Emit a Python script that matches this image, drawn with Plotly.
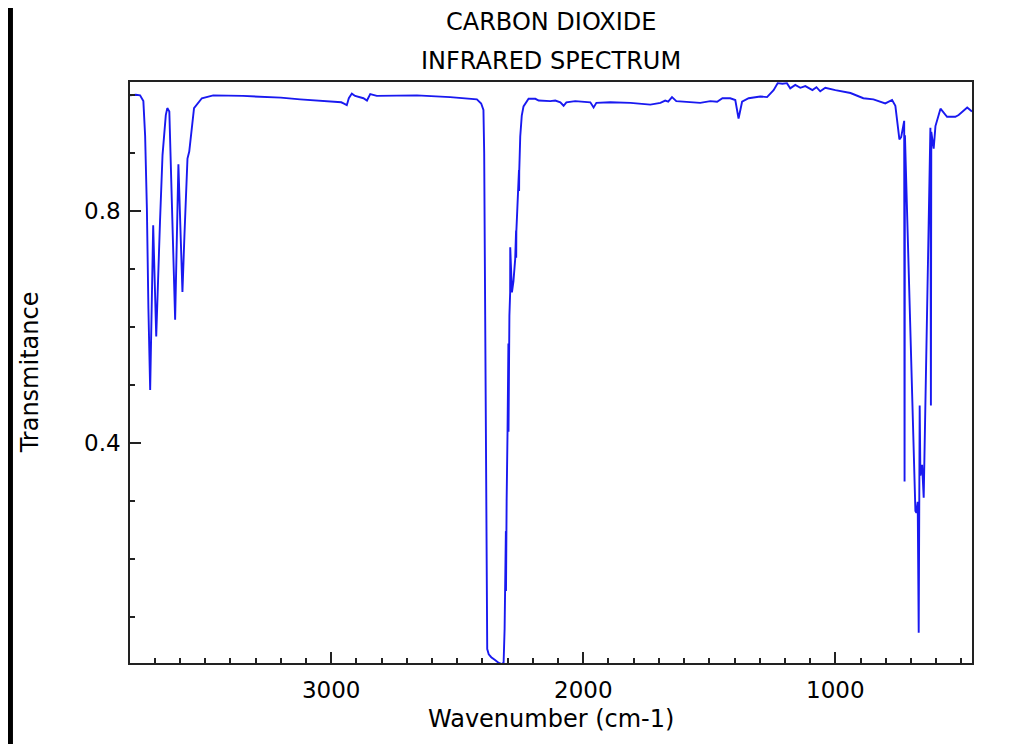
import plotly.graph_objects as go

# Wavenumber (cm-1) and transmittance
wavenumber = [
    3798, 3775, 3758, 3745, 3738, 3731, 3725, 3718, 3706, 3694, 3679, 3669,
    3656, 3650, 3642, 3631, 3619, 3606, 3590, 3582, 3570, 3563, 3544, 3513,
    3468, 3350, 3200, 3123, 3000, 2960, 2951, 2938, 2930, 2918, 2905, 2872,
    2858, 2845, 2819, 2700, 2660, 2528, 2422, 2405, 2396, 2393, 2389, 2385,
    2381, 2375, 2365, 2350, 2335, 2322, 2316, 2312, 2309.5, 2307, 2306.5,
    2306, 2304, 2300.5, 2297, 2296.5, 2296, 2293, 2290, 2289.7, 2283, 2277,
    2270, 2266.5, 2266, 2265.5, 2262, 2259, 2255, 2254.5, 2254, 2250, 2244,
    2237, 2217, 2190, 2177, 2131, 2111, 2091, 2078, 2067, 2032, 1972, 1959,
    1948, 1893, 1813, 1734, 1694, 1675, 1663, 1648, 1631, 1575, 1536, 1496,
    1469, 1448, 1417, 1397, 1384, 1370, 1344, 1298, 1271, 1245, 1229, 1210,
    1192, 1179, 1159, 1139, 1119, 1091, 1075, 1060, 1040, 1000, 940, 889,
    849, 802, 775, 762, 746, 739, 729, 727, 725.5, 724, 682.5, 678.6, 673.4,
    669.4, 665.5, 662.7, 655.9, 649.6, 623, 621, 619.5, 610, 603, 583, 557,
    524, 511, 477, 458,
]
transmittance = [
    1.000, 1.001, 1.000, 0.990, 0.930, 0.805, 0.633, 0.492, 0.776, 0.584,
    0.782, 0.897, 0.966, 0.978, 0.972, 0.805, 0.613, 0.881, 0.661, 0.759,
    0.891, 0.903, 0.978, 0.995, 1.000, 0.999, 0.996, 0.993, 0.990, 0.988,
    0.986, 0.983, 0.995, 1.003, 0.999, 0.995, 0.991, 1.002, 0.999, 1.000,
    1.000, 0.997, 0.993, 0.986, 0.975, 0.900, 0.600, 0.300, 0.045, 0.036,
    0.031, 0.026, 0.021, 0.019, 0.022, 0.080, 0.138, 0.248, 0.145, 0.245,
    0.300, 0.417, 0.572, 0.420, 0.570, 0.620, 0.660, 0.738, 0.660, 0.679,
    0.718, 0.767, 0.720, 0.765, 0.800, 0.832, 0.871, 0.835, 0.869, 0.929,
    0.965, 0.981, 0.994, 0.994, 0.991, 0.990, 0.991, 0.988, 0.982, 0.988,
    0.990, 0.988, 0.979, 0.987, 0.988, 0.987, 0.984, 0.987, 0.991, 0.989,
    0.997, 0.990, 0.988, 0.987, 0.990, 0.989, 0.995, 0.995, 0.992, 0.960,
    0.989, 0.995, 0.998, 0.997, 1.009, 1.021, 1.020, 1.021, 1.012, 1.018,
    1.013, 1.016, 1.009, 1.014, 1.007, 1.013, 1.009, 1.004, 0.995, 0.993,
    0.986, 0.992, 0.982, 0.924, 0.928, 0.956, 0.956, 0.334, 0.931, 0.283,
    0.280, 0.299, 0.073, 0.465, 0.344, 0.363, 0.306, 0.944, 0.465, 0.937,
    0.908, 0.947, 0.977, 0.963, 0.963, 0.966, 0.979, 0.972,
]

title_lines = ["CARBON DIOXIDE", "INFRARED SPECTRUM"]
x_title = "Wavenumber (cm-1)"
y_title = "Transmitance"

FONT = "DejaVu Sans"

fig = go.Figure()
fig.add_trace(go.Scatter(
    x=wavenumber, y=transmittance, mode="lines",
    line=dict(color="rgb(25,25,240)", width=1.9),
    hoverinfo="skip", showlegend=False,
))

axis_common = dict(
    showgrid=False, zeroline=False, showline=True, mirror=True,
    linecolor="#222", linewidth=1.6,
    ticks="inside", ticklen=11, tickwidth=1.5, tickcolor="#222",
    tickfont=dict(family=FONT, size=23, color="black"),
)

fig.update_xaxes(
    range=[3798, 458], tick0=0, dtick=1000,
    minor=dict(dtick=100, tick0=0, ticks="inside", ticklen=5,
               tickwidth=1.5, tickcolor="#222"),
    ticklabelstandoff=6,
    **axis_common,
)
fig.update_yaxes(
    range=[0.021, 1.023], tick0=0, dtick=0.4, tickformat=".1f",
    minor=dict(dtick=0.1, tick0=0, ticks="inside", ticklen=5,
               tickwidth=1.5, tickcolor="#222"),
    ticklabelstandoff=3,
    **axis_common,
)

annotations = [
    dict(text=title_lines[0], x=0.5, y=1.103, xref="paper", yref="paper",
         xanchor="center", yanchor="middle", showarrow=False,
         font=dict(family=FONT, size=24, color="black")),
    dict(text=title_lines[1], x=0.5, y=1.036, xref="paper", yref="paper",
         xanchor="center", yanchor="middle", showarrow=False,
         font=dict(family=FONT, size=24, color="black")),
    dict(text=x_title, x=0.5, y=-0.097, xref="paper", yref="paper",
         xanchor="center", yanchor="middle", showarrow=False,
         font=dict(family=FONT, size=24, color="black")),
    dict(text=y_title, x=-0.119, y=0.5, xref="paper", yref="paper",
         xanchor="center", yanchor="middle", showarrow=False, textangle=-90,
         font=dict(family=FONT, size=24, color="black")),
]

fig.update_layout(
    width=1016, height=736,
    margin=dict(l=122, r=52, t=74, b=81, autoexpand=False),
    paper_bgcolor="white", plot_bgcolor="white",
    annotations=annotations,
    shapes=[dict(type="rect", xref="paper", yref="paper",
                 x0=-0.1449, x1=-0.1390, y0=-0.15, y1=1.15,
                 fillcolor="black", line=dict(width=0), layer="above")],
)

fig.write_html("out.html")
